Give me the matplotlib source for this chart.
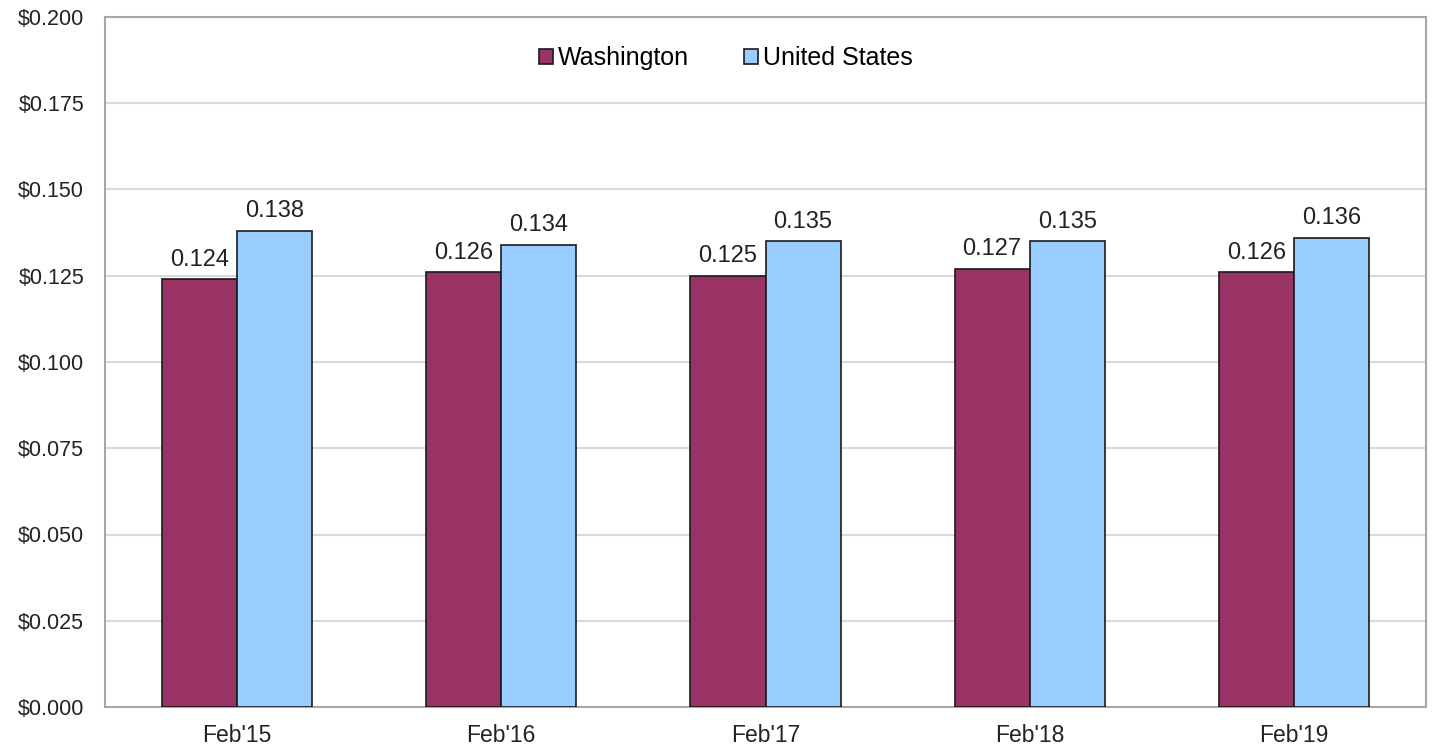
import matplotlib.pyplot as plt
import numpy as np

plt.rcParams['font.family'] = ['Liberation Sans', 'DejaVu Sans']

periods = ["Feb'15", "Feb'16", "Feb'17", "Feb'18", "Feb'19"]
washington = [0.124, 0.126, 0.125, 0.127, 0.126]
united_states = [0.138, 0.134, 0.135, 0.135, 0.136]

fig = plt.figure(figsize=(14.32, 7.5), dpi=100)
ax = fig.add_axes([105 / 1432, 43 / 750, 1321 / 1432, 690 / 750])

x = np.arange(len(periods))
w = 0.284
b1 = ax.bar(x - w / 2, washington, w, color='#993366', edgecolor='#1a1a1a',
            linewidth=1.2, label='Washington', zorder=3)
b2 = ax.bar(x + w / 2, united_states, w, color='#99ccff', edgecolor='#1a1a1a',
            linewidth=1.2, label='United States', zorder=3)

for bars, vals in [(b1, washington), (b2, united_states)]:
    for r, v in zip(bars, vals):
        ax.text(r.get_x() + r.get_width() / 2, v + 0.0025, '%.3f' % v,
                ha='center', va='bottom', fontsize=17, color='#222222')

ax.set_xlim(-0.5, 4.5)
ax.set_ylim(0, 0.2)
ax.set_yticks(np.arange(0, 0.2001, 0.025))
ax.set_yticklabels(['$%.3f' % t for t in np.arange(0, 0.2001, 0.025)])
ax.set_xticks(x)
ax.set_xticklabels(periods)
ax.tick_params(axis='both', length=0, colors='#222222')
ax.tick_params(axis='y', pad=15, labelsize=15.5)
ax.tick_params(axis='x', pad=12, labelsize=16.5)
ax.yaxis.grid(True, color='#d9d9d9', linewidth=1.5, zorder=0)
for s in ax.spines.values():
    s.set_color('#a6a6a6')
    s.set_linewidth(1.5)

leg = ax.legend(loc='upper center', bbox_to_anchor=(0.47, 0.99), ncol=2, frameon=False,
                fontsize=18, handlelength=0.55, handleheight=0.55, handletextpad=0.2,
                columnspacing=2.2)
for h in leg.legend_handles:
    h.set_linewidth(1.2)

fig.savefig('out.png', dpi=100)
